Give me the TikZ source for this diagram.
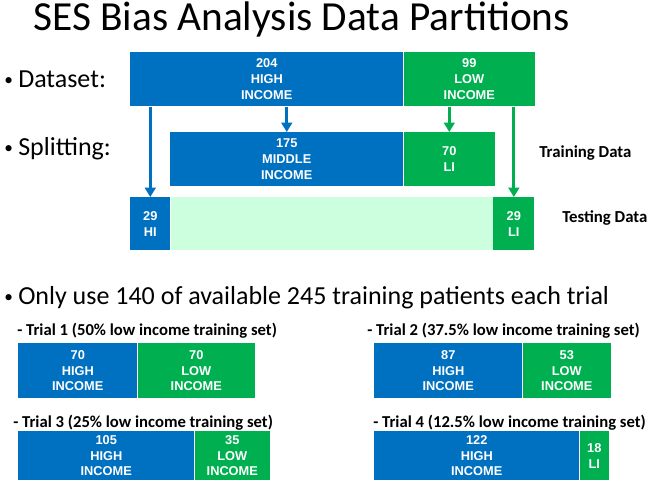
\documentclass[tikz,border=0pt]{standalone}
\usepackage{fontspec}
\setmainfont{Carlito}
\newfontfamily\boxfont{Liberation Sans}
\usetikzlibrary{arrows.meta, positioning}
\definecolor{hiblue}{RGB}{0,112,192}
\definecolor{ligreen}{RGB}{0,176,80}
\definecolor{testmint}{RGB}{204,255,222}
\newcommand{\bul}{\makebox[10.5pt][l]{\raisebox{1.5pt}{\fontsize{13}{13}\selectfont\textbullet}}}

\begin{document}
\begin{tikzpicture}[
    x=0.75pt, y=-0.75pt,
    node distance=0pt,
    seg/.style={rectangle, fill=#1, text=white, inner sep=0pt, align=center,
        font=\boxfont\bfseries\fontsize{9.6}{11.8}\selectfont},
    seg/.default=hiblue,
    bullet/.style={anchor=base west, inner sep=0pt, font=\fontsize{19.5}{24}\selectfont},
    trial/.style={anchor=base west, inner sep=0pt, font=\bfseries\fontsize{12.5}{15}\selectfont},
    side/.style={anchor=base west, inner sep=0pt, font=\bfseries\fontsize{12.6}{15}\selectfont},
    bluearrow/.style={draw=hiblue, line width=2.2pt, -{Triangle[length=7pt, width=8pt]}},
    greenarrow/.style={draw=ligreen, line width=2.2pt, -{Triangle[length=7pt, width=8pt]}}
]
\useasboundingbox (0,0) rectangle (648,482);

% Title and bullets
\node[anchor=base west, inner sep=0pt, font=\fontsize{31}{36}\selectfont] (title) at (33,30) {SES Bias Analysis Data Partitions};
\node[bullet] (bdata) at (4,87) {\bul Dataset:};
\node[bullet] (bsplit) at (4,155) {\bul Splitting:};
\node[bullet] (bonly) at (4,304) {\bul Only use 140 of available 245 training patients each trial};

% Dataset
\node[seg, minimum width=273*0.75pt, minimum height=54*0.75pt, anchor=north west] (dshi) at (130,52) {204\\HIGH\\INCOME};
\node[seg=ligreen, minimum width=131*0.75pt, minimum height=54*0.75pt, right=of dshi] (dsli) {99\\LOW\\INCOME};

% Training split
\node[seg, minimum width=233*0.75pt, minimum height=54*0.75pt, anchor=north west] (trmi) at (170,132) {175\\MIDDLE\\INCOME};
\node[seg=ligreen, minimum width=91*0.75pt, minimum height=54*0.75pt, right=of trmi] (trli) {70\\LI};
\node[side] (trlab) at (539,157) {Training Data};

% Testing split
\node[seg, minimum width=40*0.75pt, minimum height=53*0.75pt, anchor=north west] (tehi) at (130,197) {29\\HI};
\node[seg=testmint, minimum width=322*0.75pt, minimum height=53*0.75pt, right=of tehi] (tegap) {};
\node[seg=ligreen, minimum width=41*0.75pt, minimum height=53*0.75pt, right=of tegap] (teli) {29\\LI};
\node[side] (telab) at (562,222) {Testing Data};

% Arrows
\draw[bluearrow] (tehi.north |- dshi.south) -- (tehi.north);
\draw[bluearrow] (trmi.north |- dshi.south) -- (trmi.north);
\draw[greenarrow] (trli.north |- dsli.south) -- (trli.north);
\draw[greenarrow] (teli.north |- dsli.south) -- (teli.north);

% Trials
\node[trial] (t1lab) at (17,335) {- Trial 1 (50\% low income training set)};
\node[seg, minimum width=119*0.75pt, minimum height=55*0.75pt, anchor=north west] (t1hi) at (18,343) {70\\HIGH\\INCOME};
\node[seg=ligreen, minimum width=117*0.75pt, minimum height=55*0.75pt, right=of t1hi] (t1li) {70\\LOW\\INCOME};

\node[trial] (t2lab) at (367,335) {- Trial 2 (37.5\% low income training set)};
\node[seg, minimum width=148*0.75pt, minimum height=55*0.75pt, anchor=north west] (t2hi) at (374,343) {87\\HIGH\\INCOME};
\node[seg=ligreen, minimum width=88*0.75pt, minimum height=55*0.75pt, right=of t2hi] (t2li) {53\\LOW\\INCOME};

\node[trial] (t3lab) at (13,427) {- Trial 3 (25\% low income training set)};
\node[seg, minimum width=176*0.75pt, minimum height=49*0.75pt, anchor=north west] (t3hi) at (18,431) {105\\HIGH\\INCOME};
\node[seg=ligreen, minimum width=75*0.75pt, minimum height=49*0.75pt, right=of t3hi] (t3li) {35\\LOW\\INCOME};

\node[trial] (t4lab) at (373,427) {- Trial 4 (12.5\% low income training set)};
\node[seg, minimum width=205*0.75pt, minimum height=49*0.75pt, anchor=north west] (t4hi) at (374,431) {122\\HIGH\\INCOME};
\node[seg=ligreen, minimum width=29*0.75pt, minimum height=49*0.75pt, right=of t4hi] (t4li) {18\\LI};

\end{tikzpicture}
\end{document}
